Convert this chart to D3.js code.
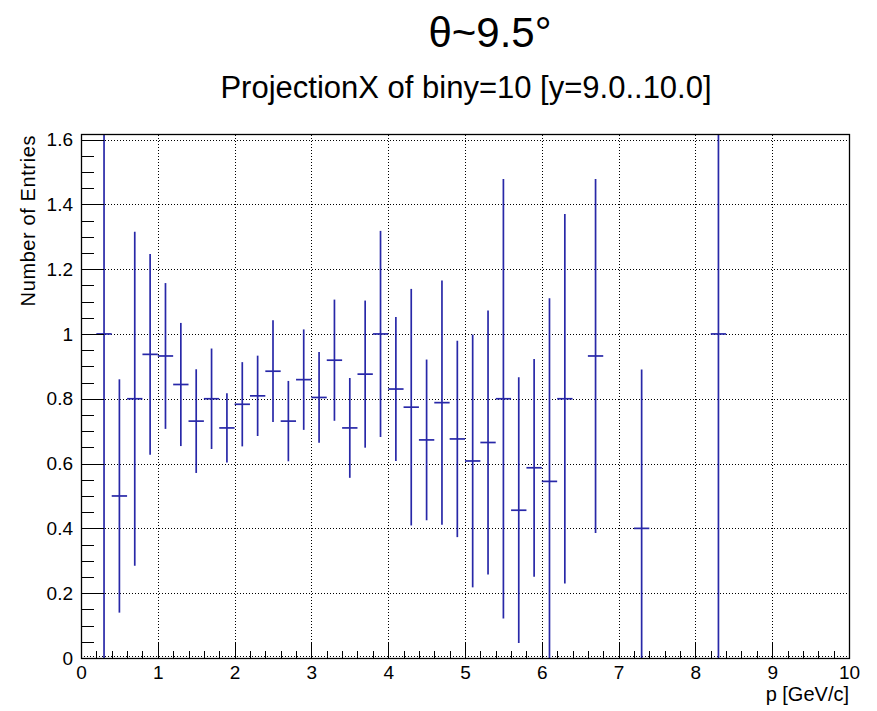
<!DOCTYPE html>
<html>
<head>
<meta charset="utf-8">
<script src="https://cdn.jsdelivr.net/npm/d3@7"></script>
<style>
  body { margin: 0; background: #fff; }
  text { font-family: "Liberation Sans", Arial, sans-serif; fill: #000; }
</style>
</head>
<body>
<script>
// histogram bins (width 0.2 GeV/c), only the filled ones
const binWidth = 0.2;
const binCenters = [0.3, 0.5, 0.7, 0.9, 1.1, 1.3, 1.5, 1.7, 1.9, 2.1, 2.3, 2.5, 2.7, 2.9, 3.1, 3.3,
  3.5, 3.7, 3.9, 4.1, 4.3, 4.5, 4.7, 4.9, 5.1, 5.3, 5.5, 5.7, 5.9, 6.1, 6.3, 6.7, 7.3, 8.3];
const entries = [1.0, 0.5, 0.8, 0.937, 0.932, 0.844, 0.731, 0.8, 0.71, 0.783, 0.809, 0.885, 0.731, 0.859, 0.804, 0.919,
  0.71, 0.876, 1.0, 0.83, 0.774, 0.673, 0.788, 0.676, 0.608, 0.665, 0.8, 0.456, 0.587, 0.545, 0.8, 0.932, 0.4, 1.0];
const errors = [1.0, 0.36, 0.515, 0.31, 0.225, 0.19, 0.16, 0.155, 0.107, 0.13, 0.124, 0.157, 0.124, 0.155, 0.14, 0.187,
  0.154, 0.227, 0.318, 0.222, 0.365, 0.248, 0.377, 0.303, 0.39, 0.407, 0.678, 0.41, 0.336, 0.565, 0.57, 0.546, 0.49, 1.0];

// axis ticks
const xTicks = [0, 1, 2, 3, 4, 5, 6, 7, 8, 9, 10];
const yTicks = [0, 0.2, 0.4, 0.6, 0.8, 1.0, 1.2, 1.4, 1.6];
const yTickLabels = ["0", "0.2", "0.4", "0.6", "0.8", "1", "1.2", "1.4", "1.6"];

const width = 877;
const height = 711;
const margin = { top: 134, right: 28, bottom: 53, left: 81 };

const svg = d3.select('body')
  .append('svg')
  .attr('width', width)
  .attr('height', height);

const x = d3.scaleLinear().domain([0, 10]).range([margin.left, width - margin.right]);
const y = d3.scaleLinear().domain([0, 1.617]).range([height - margin.bottom, margin.top]);

// dotted grid
const grid = svg.append('g')
  .attr('stroke', '#000')
  .attr('stroke-width', 1)
  .attr('stroke-dasharray', '1,2')
  .attr('shape-rendering', 'crispEdges');

grid.selectAll('.vgrid')
  .data(xTicks.slice(1, -1))
  .enter().append('line')
  .attr('x1', d => Math.round(x(d)) + 0.5)
  .attr('x2', d => Math.round(x(d)) + 0.5)
  .attr('y1', y.range()[0])
  .attr('y2', y.range()[1]);

grid.selectAll('.hgrid')
  .data(yTicks)
  .enter().append('line')
  .attr('x1', x.range()[0])
  .attr('x2', x.range()[1])
  .attr('y1', d => Math.round(y(d)) - (d === 0 ? 1.5 : -0.5))
  .attr('y2', d => Math.round(y(d)) - (d === 0 ? 1.5 : -0.5));

// error bars, clipped at the frame
svg.append('clipPath')
  .attr('id', 'frame-clip')
  .append('rect')
  .attr('x', x.range()[0])
  .attr('y', y.range()[1])
  .attr('width', x.range()[1] - x.range()[0])
  .attr('height', y.range()[0] - y.range()[1]);

const bins = binCenters.map((c, i) => ({ c: c, v: entries[i], e: errors[i] }));

const marks = svg.append('g')
  .attr('clip-path', 'url(#frame-clip)')
  .attr('stroke', '#2828a8')
  .attr('stroke-width', 1.7);

marks.selectAll('.ebar')
  .data(bins)
  .enter().append('line')
  .attr('class', 'ebar')
  .attr('x1', d => x(d.c))
  .attr('x2', d => x(d.c))
  .attr('y1', d => y(Math.max(0, d.v - d.e)))
  .attr('y2', d => y(d.v + d.e));

marks.selectAll('.hbar')
  .data(bins)
  .enter().append('line')
  .attr('class', 'hbar')
  .attr('x1', d => x(d.c - binWidth / 2))
  .attr('x2', d => x(d.c + binWidth / 2))
  .attr('y1', d => y(d.v))
  .attr('y2', d => y(d.v));

// axes with inward ticks (ROOT style)
const xMinor = d3.range(0, 10.001, 0.2).filter(v => Math.abs(v - Math.round(v)) > 1e-6);
const yMinor = d3.range(0, 1.601, 0.05).filter(v => Math.abs(v * 5 - Math.round(v * 5)) > 1e-6);

svg.append('g')
  .attr('transform', `translate(0, ${y.range()[0]})`)
  .call(d3.axisBottom(x).tickValues(xTicks).tickSize(-15).tickPadding(8).tickFormat(d3.format('d')));
svg.append('g')
  .attr('transform', `translate(0, ${y.range()[0]})`)
  .call(d3.axisBottom(x).tickValues(xMinor).tickSize(-7).tickFormat(''));

svg.append('g')
  .attr('transform', `translate(${x.range()[0]}, 0)`)
  .call(d3.axisLeft(y).tickValues(yTicks).tickSize(-23).tickPadding(8).tickFormat((d, i) => yTickLabels[i]));
svg.append('g')
  .attr('transform', `translate(${x.range()[0]}, 0)`)
  .call(d3.axisLeft(y).tickValues(yMinor).tickSize(-13).tickFormat(''));

svg.selectAll('.domain').remove();
svg.selectAll('.tick line').attr('stroke', '#000').attr('shape-rendering', 'crispEdges');
svg.selectAll('.tick text').style('font-size', '19px');

// frame
svg.append('rect')
  .attr('x', x.range()[0] + 0.5)
  .attr('y', y.range()[1] + 0.5)
  .attr('width', x.range()[1] - x.range()[0])
  .attr('height', y.range()[0] - y.range()[1])
  .attr('fill', 'none')
  .attr('stroke', '#000')
  .attr('stroke-width', 1.3);

// titles
svg.append('text')
  .attr('x', 490)
  .attr('y', 47)
  .attr('text-anchor', 'middle')
  .style('font-size', '42px')
  .text('θ~9.5°');

svg.append('text')
  .attr('x', 466)
  .attr('y', 98)
  .attr('text-anchor', 'middle')
  .style('font-size', '31px')
  .text('ProjectionX of biny=10 [y=9.0..10.0]');

// axis labels
svg.append('text')
  .attr('x', x.range()[1])
  .attr('y', 701)
  .attr('text-anchor', 'end')
  .style('font-size', '20px')
  .text('p [GeV/c]');

svg.append('text')
  .attr('transform', `translate(35, ${y.range()[1] + 1}) rotate(-90)`)
  .attr('text-anchor', 'end')
  .style('font-size', '20px')
  .style('letter-spacing', '0.6px')
  .text('Number of Entries');
</script>
</body>
</html>
